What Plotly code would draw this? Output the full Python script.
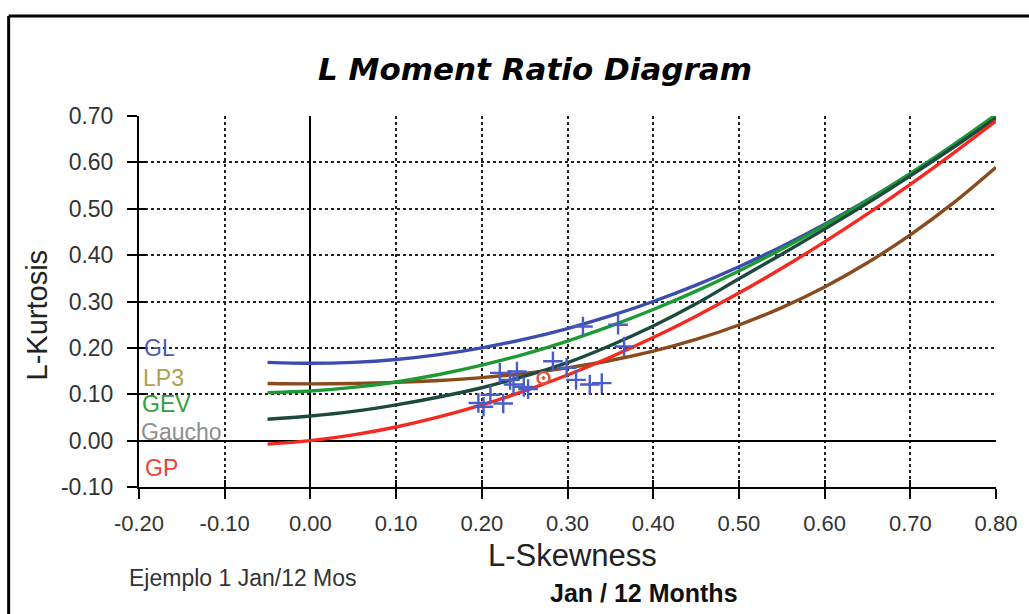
import plotly.graph_objects as go

# ---- data ----
skew_grid = [-0.05, 0.00, 0.05, 0.10, 0.15, 0.20, 0.25, 0.30, 0.35, 0.40,
             0.45, 0.50, 0.55, 0.60, 0.65, 0.70, 0.75, 0.80]

gl_kurt = [0.1688, 0.1667, 0.1688, 0.1750, 0.1854, 0.2000, 0.2188, 0.2417, 0.2688,
           0.3000, 0.3354, 0.3750, 0.4188, 0.4667, 0.5188, 0.5750, 0.6354, 0.7000]
lp3_kurt = [0.1232, 0.1224, 0.1232, 0.1255, 0.1297, 0.1359, 0.1448, 0.1569, 0.1727,
            0.1929, 0.2182, 0.2494, 0.2869, 0.3314, 0.3835, 0.4436, 0.5120, 0.5894]
gev_kurt = [0.1036, 0.1070, 0.1147, 0.1265, 0.1425, 0.1626, 0.1867, 0.2148, 0.2468,
            0.2827, 0.3224, 0.3659, 0.4130, 0.4638, 0.5182, 0.5762, 0.6378, 0.7030]
gaucho_kurt = [0.046, 0.053, 0.063, 0.077, 0.094, 0.114, 0.139, 0.168, 0.205,
               0.247, 0.295, 0.349, 0.402, 0.456, 0.512, 0.571, 0.632, 0.696]
gp_kurt = [-0.0076, 0.0000, 0.0124, 0.0294, 0.0510, 0.0769, 0.1071, 0.1415, 0.1799,
           0.2222, 0.2684, 0.3182, 0.3716, 0.4286, 0.4889, 0.5526, 0.6196, 0.6897]

site_skew = [0.318, 0.359, 0.366, 0.283, 0.299, 0.221, 0.241, 0.233, 0.237, 0.249,
             0.254, 0.310, 0.326, 0.340, 0.210, 0.196, 0.202, 0.225]
site_kurt = [0.246, 0.250, 0.203, 0.171, 0.157, 0.146, 0.149, 0.131, 0.121, 0.116,
             0.111, 0.131, 0.121, 0.124, 0.099, 0.081, 0.073, 0.080]

mean_skew = [0.272]
mean_kurt = [0.135]

x_ticks = [-0.2, -0.1, 0.0, 0.1, 0.2, 0.3, 0.4, 0.5, 0.6, 0.7, 0.8]
x_tick_labels = ["-0.20", "-0.10", "0.00", "0.10", "0.20", "0.30", "0.40",
                 "0.50", "0.60", "0.70", "0.80"]
y_ticks = [-0.1, 0.0, 0.1, 0.2, 0.3, 0.4, 0.5, 0.6, 0.7]
y_tick_labels = ["-0.10", "0.00", "0.10", "0.20", "0.30", "0.40", "0.50", "0.60", "0.70"]

curve_names = ["LP3", "GL", "GEV", "Gaucho", "GP"]
curve_colors = ["#8a4a1c", "#3c4cb0", "#1e9a34", "#1d4a40", "#f22a22"]
curve_values = [lp3_kurt, gl_kurt, gev_kurt, gaucho_kurt, gp_kurt]

label_names = ["GL", "LP3", "GEV", "Gaucho", "GP"]
label_colors = ["#5157b4", "#aaa24e", "#2e9e3e", "#8e8e8e", "#f04038"]
label_x = [-0.197, -0.198, -0.199, -0.200, -0.195]
label_y = [0.200, 0.136, 0.080, 0.019, -0.058]

FONT = "Liberation Sans, Arial, sans-serif"
TITLE_FONT = "DejaVu Sans, Liberation Sans, sans-serif"

fig = go.Figure()

for name, color, vals in zip(curve_names, curve_colors, curve_values):
    fig.add_trace(go.Scatter(
        x=skew_grid, y=vals, mode="lines", name=name,
        line=dict(color=color, width=3.4, shape="spline"),
        showlegend=False, hoverinfo="skip"))

fig.add_trace(go.Scatter(
    x=site_skew, y=site_kurt, mode="markers", showlegend=False,
    marker=dict(symbol="cross-thin", size=14,
                line=dict(color="#4a5cc8", width=2.4))))

fig.add_trace(go.Scatter(
    x=mean_skew, y=mean_kurt, mode="markers", showlegend=False,
    marker=dict(symbol="circle-open-dot", size=12, color="#e0503a",
                line=dict(color="#e0503a", width=2.5))))

# invisible trace to carry the overlay axes (crossing ticks)
fig.add_trace(go.Scatter(x=[x_ticks[0]], y=[y_ticks[0]], xaxis="x2", yaxis="y2",
                         mode="markers", marker=dict(opacity=0), showlegend=False,
                         hoverinfo="skip"))

for name, color, lx, ly in zip(label_names, label_colors, label_x, label_y):
    fig.add_annotation(x=lx, y=ly, xref="x", yref="y", text=name, showarrow=False,
                       xanchor="left", yanchor="middle",
                       font=dict(family=FONT, size=23, color=color))

axis_common = dict(showline=True, linecolor="black", linewidth=2,
                   showgrid=True, gridcolor="#222222", gridwidth=1.6, griddash="dot",
                   zeroline=True, zerolinecolor="black", zerolinewidth=2,
                   ticks="outside", ticklen=10, tickwidth=2, tickcolor="black")

fig.update_layout(
    width=1029, height=614,
    margin=dict(l=139, r=29, t=116, b=127),
    paper_bgcolor="white", plot_bgcolor="white",
    xaxis=dict(range=[-0.2, 0.8], tickvals=x_ticks, ticktext=x_tick_labels,
               ticklabelstandoff=6,
               tickfont=dict(family=FONT, size=22, color="#333333"), **axis_common),
    yaxis=dict(range=[-0.1, 0.7], tickvals=y_ticks, ticktext=y_tick_labels,
               ticklabelstandoff=9,
               tickfont=dict(family=FONT, size=23, color="#333333"), **axis_common),
    xaxis2=dict(range=[-0.2, 0.8], overlaying="x", anchor="y2", side="bottom",
                tickvals=x_ticks, ticks="inside", ticklen=7, tickwidth=2,
                tickcolor="black", showticklabels=False, showgrid=False,
                zeroline=False, showline=False),
    yaxis2=dict(range=[-0.1, 0.7], overlaying="y", anchor="x2", side="left",
                tickvals=y_ticks, ticks="inside", ticklen=7, tickwidth=2,
                tickcolor="black", showticklabels=False, showgrid=False,
                zeroline=False, showline=False),
)

# titles and notes
fig.add_annotation(x=0.4623, y=1.1267, xref="paper", yref="paper",
                   text="<b><i>L Moment Ratio Diagram</i></b>", showarrow=False,
                   xanchor="center", yanchor="middle",
                   font=dict(family=TITLE_FONT, size=31, color="black"))
fig.add_annotation(x=-0.1185, y=0.4636, xref="paper", yref="paper",
                   text="L-Kurtosis", showarrow=False, textangle=-90,
                   xanchor="center", yanchor="middle",
                   font=dict(family=FONT, size=29, color="#222222"))
fig.add_annotation(x=0.5064, y=-0.1833, xref="paper", yref="paper",
                   text="L-Skewness", showarrow=False,
                   xanchor="center", yanchor="middle",
                   font=dict(family=FONT, size=31, color="#222222"))
fig.add_annotation(x=-0.0139, y=-0.2453, xref="paper", yref="paper",
                   text="Ejemplo 1 Jan/12 Mos", showarrow=False,
                   xanchor="left", yanchor="middle",
                   font=dict(family=FONT, size=23, color="#333333"))
fig.add_annotation(x=0.4774, y=-0.2857, xref="paper", yref="paper",
                   text="<b>Jan / 12 Months</b>", showarrow=False,
                   xanchor="left", yanchor="middle",
                   font=dict(family=FONT, size=25, color="#111111"))

# outer frame (top and left borders)
fig.add_shape(type="line", xref="paper", yref="paper",
              x0=-0.1521, x1=1.05, y0=1.2695, y1=1.2695,
              line=dict(color="black", width=3))
fig.add_shape(type="line", xref="paper", yref="paper",
              x0=-0.1521, x1=-0.1521, y0=1.2695, y1=-0.36,
              line=dict(color="black", width=3))

fig.write_html("out.html")
